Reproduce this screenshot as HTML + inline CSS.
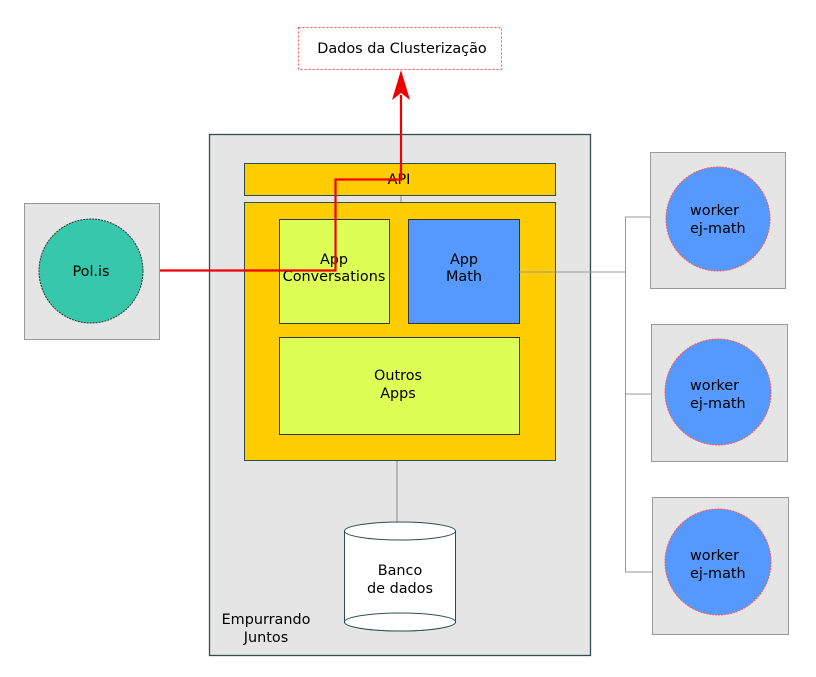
<!DOCTYPE html>
<html><head><meta charset="utf-8"><style>body{margin:0;background:#fff}svg{display:block}text{font-family:"DejaVu Sans","Liberation Sans",sans-serif;font-size:14.4px;fill:#000}</style></head><body>
<svg width="816" height="677" viewBox="0 0 816 677" xmlns="http://www.w3.org/2000/svg">
<rect x="298.5" y="27.5" width="203" height="42" fill="#fff" stroke="#ff5555" stroke-dasharray="2,2"/>
<text x="402" y="53" text-anchor="middle">Dados da Clusterização</text>
<rect x="209.5" y="134.5" width="381" height="521" fill="#e5e5e5" stroke="#2f4f4f" stroke-width="1.3"/>
<line x1="401" y1="195" x2="401" y2="202" stroke="#888"/>
<line x1="397" y1="460" x2="397" y2="522" stroke="#888"/>
<rect x="244.5" y="163.5" width="311" height="32" fill="#ffcc00" stroke="#2f4f4f"/>
<text x="399" y="184" text-anchor="middle">API</text>
<rect x="244.5" y="202.5" width="311" height="258" fill="#ffcc00" stroke="#2f4f4f"/>
<rect x="279.5" y="219.5" width="110" height="104" fill="#ddff55" stroke="#333"/>
<text x="334" y="264" text-anchor="middle">App</text><text x="334" y="281" text-anchor="middle">Conversations</text>
<rect x="408.5" y="219.5" width="111" height="104" fill="#5599ff" stroke="#333"/>
<text x="464" y="264" text-anchor="middle">App</text><text x="464" y="281" text-anchor="middle">Math</text>
<rect x="279.5" y="337.5" width="240" height="97" fill="#ddff55" stroke="#333"/>
<text x="398" y="380" text-anchor="middle">Outros</text><text x="398" y="398" text-anchor="middle">Apps</text>
<path d="M344.5 531 V622 A55.5 9 0 0 0 455.5 622 V531" fill="#fff" stroke="#2f4f4f"/>
<ellipse cx="400" cy="531" rx="55.5" ry="9" fill="#fff" stroke="#2f4f4f"/>
<ellipse cx="400" cy="622" rx="55.5" ry="9" fill="#fff" stroke="#2f4f4f"/>
<text x="400" y="575" text-anchor="middle">Banco</text><text x="400" y="593" text-anchor="middle">de dados</text>
<text x="266" y="624" text-anchor="middle">Empurrando</text><text x="266" y="642" text-anchor="middle">Juntos</text>
<rect x="24.5" y="203.5" width="135" height="136" fill="#e5e5e5" stroke="#999"/>
<circle cx="91" cy="271" r="52" fill="#37c8ab" stroke="#333" stroke-dasharray="2,1"/>
<text x="91" y="276" text-anchor="middle">Pol.is</text>
<path d="M519 272 H626 M625.5 217 V572 M625 217 H650 M625 394 H651 M625 572 H652" fill="none" stroke="#999"/>
<rect x="650.5" y="152.5" width="135" height="136" fill="#e5e5e5" stroke="#999"/>
<rect x="651.5" y="324.5" width="136" height="137" fill="#e5e5e5" stroke="#999"/>
<rect x="652.5" y="497.5" width="136" height="137" fill="#e5e5e5" stroke="#999"/>
<g fill="#5599ff" stroke="#ff5555" stroke-dasharray="2,1">
<circle cx="718" cy="219" r="52"/><circle cx="718" cy="392" r="53"/><circle cx="718" cy="562" r="53"/></g>
<text x="690" y="215">worker</text><text x="690" y="233">ej-math</text>
<text x="690" y="390">worker</text><text x="690" y="408">ej-math</text>
<text x="690" y="560">worker</text><text x="690" y="578">ej-math</text>
<path d="M160 270.5 H335.5 V179.5 H401 V95" fill="none" stroke="#ee0000" stroke-width="2.2"/>
<path d="M401 70 L410 100 L401 93 L392 100 Z" fill="#ee0000"/>
</svg>
</body></html>
